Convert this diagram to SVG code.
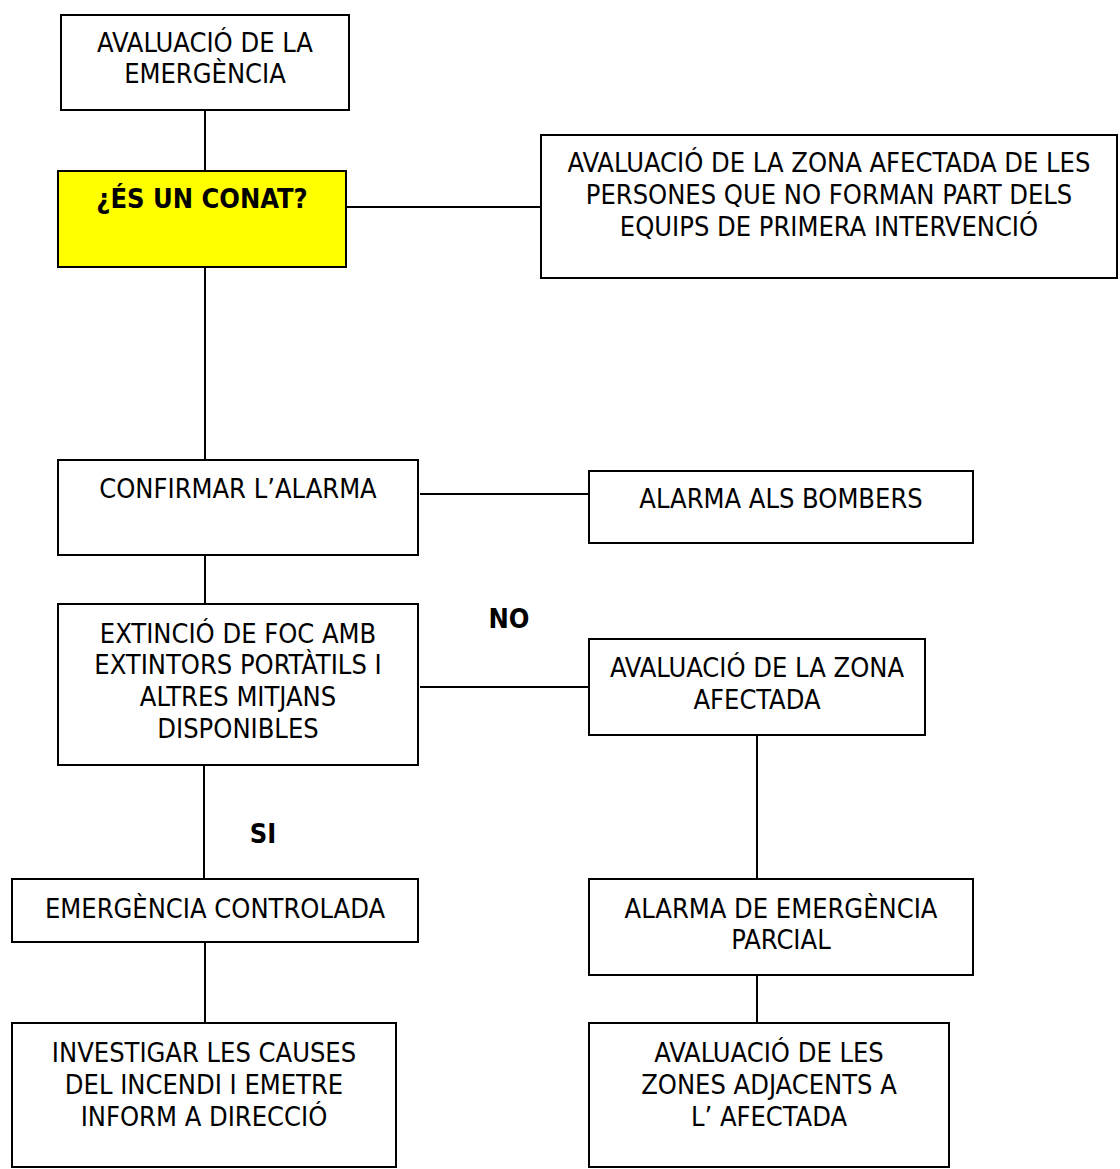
<svg xmlns="http://www.w3.org/2000/svg" width="1120" height="1169" viewBox="0 0 1120 1169">
<style>
.box{fill:#fff;stroke:#000;stroke-width:2}
.yel{fill:#ffff00;stroke:#000;stroke-width:2}
.ln{stroke:#000;stroke-width:2;fill:none}
text{font-family:"DejaVu Sans Condensed","DejaVu Sans","Liberation Sans",sans-serif;font-stretch:condensed;font-size:27px;fill:#000;text-anchor:middle}
.b{font-weight:bold}
</style>
<rect width="1120" height="1169" fill="#fff"/>
<g id="connectors">
<line class="ln" x1="205" y1="110" x2="205" y2="171"/>
<line class="ln" x1="346" y1="207" x2="541" y2="207"/>
<line class="ln" x1="205" y1="267" x2="205" y2="460"/>
<line class="ln" x1="420" y1="494" x2="589" y2="494"/>
<line class="ln" x1="205" y1="555" x2="205" y2="604"/>
<line class="ln" x1="420" y1="687" x2="589" y2="687"/>
<line class="ln" x1="204" y1="765" x2="204" y2="879"/>
<line class="ln" x1="757" y1="735" x2="757" y2="879"/>
<line class="ln" x1="205" y1="942" x2="205" y2="1023"/>
<line class="ln" x1="757" y1="975" x2="757" y2="1023"/>
</g>
<g id="n1"><rect class="box" x="61" y="15" width="288" height="95"/>
<text x="205" y="52">AVALUACIÓ DE LA</text><text x="205" y="83">EMERGÈNCIA</text></g>
<g id="n2"><rect class="yel" x="58" y="171" width="288" height="96"/>
<text class="b" x="202" y="208">¿ÉS UN CONAT?</text></g>
<g id="n3"><rect class="box" x="541" y="135" width="576" height="143"/>
<text x="829" y="172">AVALUACIÓ DE LA ZONA AFECTADA DE LES</text>
<text x="829" y="204">PERSONES QUE NO FORMAN PART DELS</text>
<text x="829" y="236">EQUIPS DE PRIMERA INTERVENCIÓ</text></g>
<g id="n4"><rect class="box" x="58" y="460" width="360" height="95"/>
<text x="238" y="498">CONFIRMAR L’ALARMA</text></g>
<g id="n5"><rect class="box" x="589" y="471" width="384" height="72"/>
<text x="781" y="508">ALARMA ALS BOMBERS</text></g>
<g id="n6"><rect class="box" x="58" y="604" width="360" height="161"/>
<text x="238" y="643">EXTINCIÓ DE FOC AMB</text>
<text x="238" y="674">EXTINTORS PORTÀTILS I</text>
<text x="238" y="706">ALTRES MITJANS</text>
<text x="238" y="738">DISPONIBLES</text></g>
<g id="lbl-no"><text class="b" x="509" y="628">NO</text></g>
<g id="n7"><rect class="box" x="589" y="639" width="336" height="96"/>
<text x="757" y="677">AVALUACIÓ DE LA ZONA</text>
<text x="757" y="709">AFECTADA</text></g>
<g id="lbl-si"><text class="b" x="263" y="843">SI</text></g>
<g id="n8"><rect class="box" x="12" y="879" width="406" height="63"/>
<text x="215" y="918">EMERGÈNCIA CONTROLADA</text></g>
<g id="n9"><rect class="box" x="12" y="1023" width="384" height="144"/>
<text x="204" y="1062">INVESTIGAR LES CAUSES</text>
<text x="204" y="1094">DEL INCENDI I EMETRE</text>
<text x="204" y="1126">INFORM A DIRECCIÓ</text></g>
<g id="n10"><rect class="box" x="589" y="879" width="384" height="96"/>
<text x="781" y="918">ALARMA DE EMERGÈNCIA</text>
<text x="781" y="949">PARCIAL</text></g>
<g id="n11"><rect class="box" x="589" y="1023" width="360" height="144"/>
<text x="769" y="1062">AVALUACIÓ DE LES</text>
<text x="769" y="1094">ZONES ADJACENTS A</text>
<text x="769" y="1126">L’ AFECTADA</text></g>
</svg>
